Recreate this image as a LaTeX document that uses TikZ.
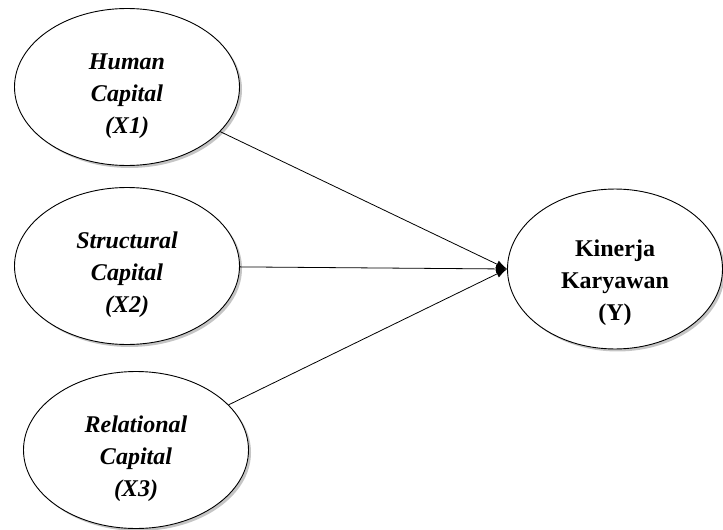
\documentclass[tikz,border=0pt]{standalone}
\usepackage{fontspec}
\setmainfont{Liberation Serif}
\usetikzlibrary{arrows.meta,shapes.geometric,shadows}
\newcommand{\dropline}[1]{\rule{0pt}{#1}}

\begin{document}
\begin{tikzpicture}[x=1pt,y=1pt,
		construct/.style={ellipse,draw=black,line width=0.9pt,fill=white,align=center,inner sep=0pt,
			minimum width=225pt,minimum height=157pt,font=\fontsize{24}{32}\selectfont,
			drop shadow={shadow xshift=2.5pt,shadow yshift=-2.5pt,fill=black!45}},
		effect/.style={draw=black,line width=0.8pt,-{Latex[length=11pt,width=8pt]}}]
		\useasboundingbox (0,0) rectangle (723,-530);
		% variabel bebas
		\node[construct] (X1) at (127,-87) {\dropline{34pt}\textbf{\textit{Human}}\\ \textbf{\textit{Capital}}\\ \textbf{\textit{(X1)}}};
		\node[construct] (X2) at (127,-266) {\dropline{34pt}\textbf{\textit{Structural}}\\ \textbf{\textit{Capital}}\\ \textbf{\textit{(X2)}}};
		\node[construct] (X3) at (136,-450) {\dropline{34pt}\textbf{\textit{Relational}}\\ \textbf{\textit{Capital}}\\ \textbf{\textit{(X3)}}};
		% variabel terikat
		\node[construct,minimum width=215pt,minimum height=156pt] (Y) at (615,-269) {\dropline{44pt}\textbf{Kinerja}\\ \textbf{Karyawan}\\ \textbf{(Y)}};
		% hubungan
		\draw[effect] (X1) -- (Y.west);
		\draw[effect] (X2) -- (Y.west);
		\draw[effect] (X3) -- (Y.west);
	\end{tikzpicture}
\end{document}
